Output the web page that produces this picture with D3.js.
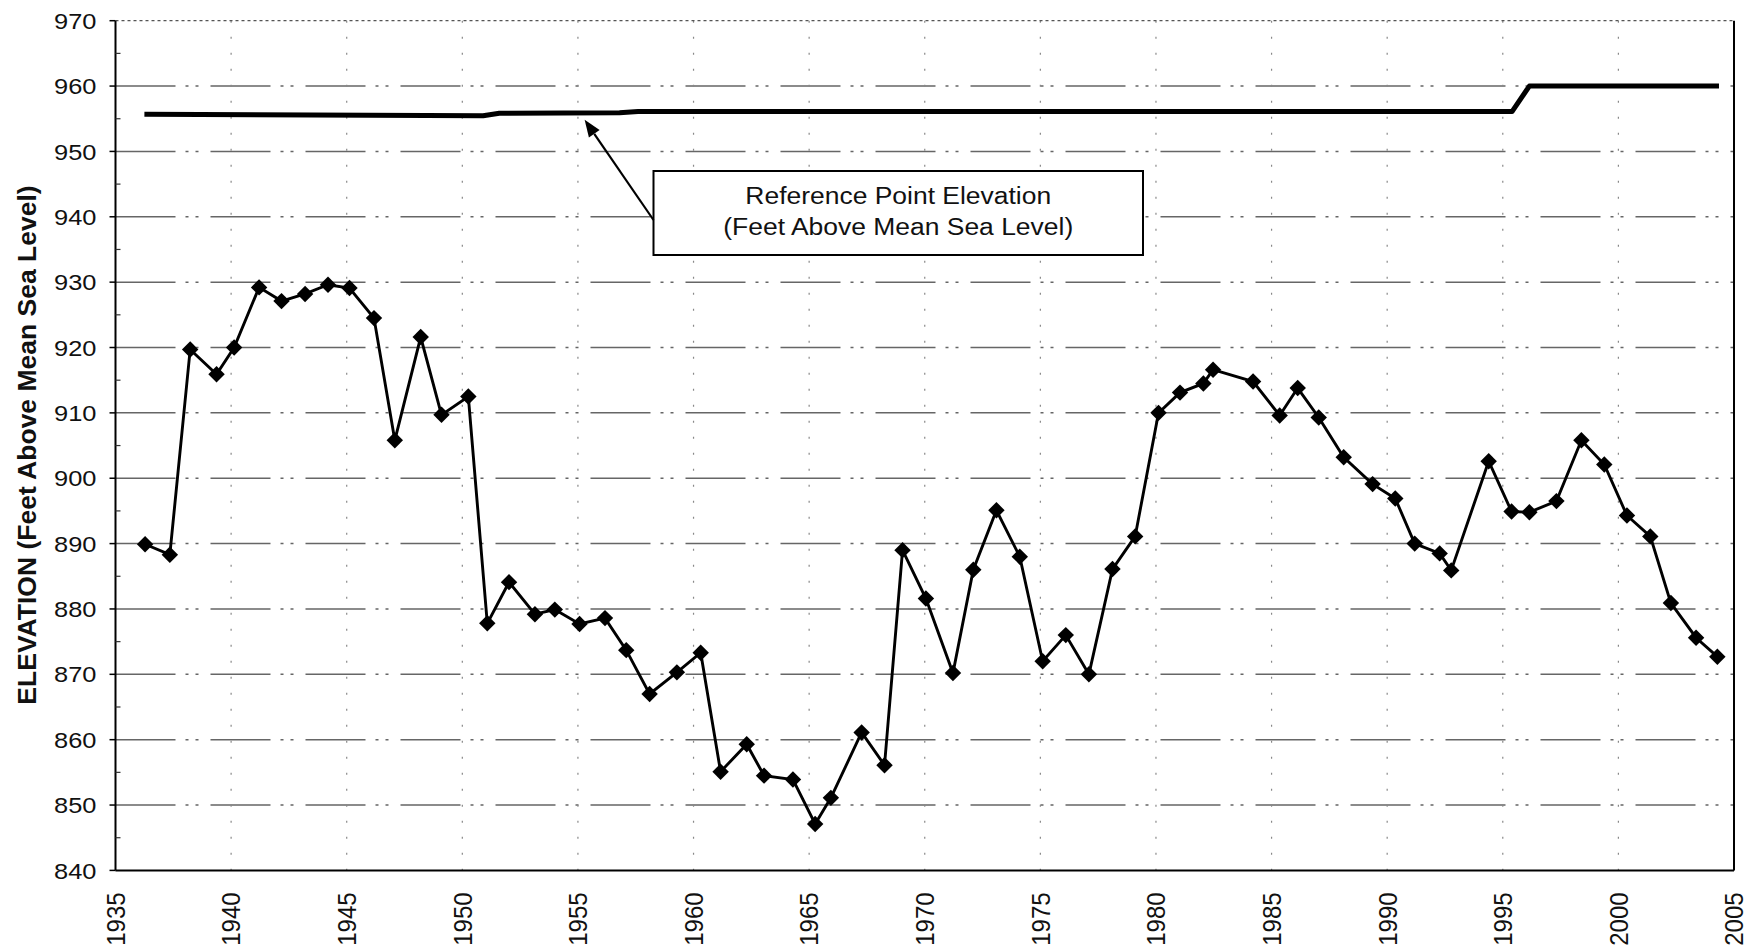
<!DOCTYPE html>
<html>
<head>
<meta charset="utf-8">
<script src="https://cdn.jsdelivr.net/npm/d3@7"></script>
<style>
  html, body { margin: 0; padding: 0; background: #fff; }
  svg { display: block; font-family: "Liberation Sans", Arial, sans-serif; }
</style>
</head>
<body>
<svg id="chart" width="1756" height="951"></svg>
<script>
// ---- data ----
const years = [
  1936.28, 1937.35, 1938.23, 1939.37, 1940.13, 1941.21, 1942.18, 1943.20, 1944.19, 1945.12,
  1946.18, 1947.08, 1948.20, 1949.10, 1950.26, 1951.08, 1952.02, 1953.14, 1954.00, 1955.07,
  1956.17, 1957.09, 1958.10, 1959.28, 1960.31, 1961.17, 1962.30, 1963.05, 1964.30, 1965.26,
  1965.94, 1967.27, 1968.26, 1969.04, 1970.05, 1971.22, 1972.10, 1973.10, 1974.11, 1975.10,
  1976.10, 1977.10, 1978.12, 1979.10, 1980.11, 1981.04, 1982.05, 1982.47, 1984.20, 1985.35,
  1986.13, 1987.04, 1988.12, 1989.37, 1990.35, 1991.19, 1992.27, 1992.77, 1994.39, 1995.38,
  1996.15, 1997.32, 1998.40, 1999.39, 2000.37, 2001.38, 2002.27, 2003.36, 2004.28
];
const elevation = [
  889.9, 888.3, 919.7, 915.9, 920.0, 929.2, 927.1, 928.2, 929.6, 929.1,
  924.5, 905.8, 921.6, 909.7, 912.5, 877.8, 884.1, 879.2, 879.9, 877.7,
  878.6, 873.7, 867.0, 870.3, 873.3, 855.1, 859.3, 854.5, 853.9, 847.1,
  851.1, 861.1, 856.1, 889.0, 881.6, 870.2, 886.0, 895.1, 888.0, 872.0,
  876.0, 870.0, 886.1, 891.1, 910.0, 913.1, 914.5, 916.6, 914.8, 909.6,
  913.8, 909.3, 903.2, 899.1, 896.9, 890.0, 888.5, 885.9, 902.6, 894.9,
  894.8, 896.5, 905.8, 902.1, 894.3, 891.1, 880.9, 875.6, 872.7
];
const refYears = [1936.25, 1950.9, 1951.6, 1956.8, 1957.6, 1995.4, 1996.15, 2004.35];
const refElev   = [955.7, 955.45, 955.85, 955.9, 956.1, 956.1, 960.0, 960.0];
const yTicks = [840, 850, 860, 870, 880, 890, 900, 910, 920, 930, 940, 950, 960, 970];
const xTicks = [1935, 1940, 1945, 1950, 1955, 1960, 1965, 1970, 1975, 1980, 1985, 1990, 1995, 2000, 2005];
const yTitle = "ELEVATION (Feet Above Mean Sea Level)";
const noteLines = ["Reference Point Elevation", "(Feet Above Mean Sea Level)"];
const arrowTarget = [1955.29, 955.3];

// ---- layout ----
const L = 115.5, R = 1734, T = 20.7, B = 870.4;
const svg = d3.select("#chart");
const x = d3.scaleLinear().domain([1935, 2005]).range([L, R]);
const y = d3.scaleLinear().domain([840, 970]).range([B, T]);

// gridlines
const grid = svg.append("g");
grid.selectAll("line.h").data(yTicks.filter(v => v > 840 && v < 970)).join("line")
  .attr("x1", L).attr("x2", R).attr("y1", d => y(d)).attr("y2", d => y(d))
  .attr("stroke", "#666").attr("stroke-width", 1.5)
  .attr("stroke-dasharray", "60,10,3,7,3,12");
grid.selectAll("line.v").data(xTicks.filter(v => v > 1935 && v < 2005)).join("line")
  .attr("x1", d => x(d)).attr("x2", d => x(d)).attr("y1", T).attr("y2", B)
  .attr("stroke", "#888").attr("stroke-width", 1.2)
  .attr("stroke-dasharray", "2,14");

// frame
svg.append("line").attr("x1", L).attr("x2", R).attr("y1", T).attr("y2", T)
  .attr("stroke", "#555").attr("stroke-width", 1.3).attr("stroke-dasharray", "3,3");
svg.append("line").attr("x1", L).attr("x2", L).attr("y1", T).attr("y2", B)
  .attr("stroke", "#000").attr("stroke-width", 2);
svg.append("line").attr("x1", R).attr("x2", R).attr("y1", T).attr("y2", B)
  .attr("stroke", "#000").attr("stroke-width", 2);
svg.append("line").attr("x1", L).attr("x2", R).attr("y1", B).attr("y2", B)
  .attr("stroke", "#000").attr("stroke-width", 2);

// y axis ticks (major outside, minor inside)
svg.append("g").selectAll("line").data(yTicks).join("line")
  .attr("x1", L - 6).attr("x2", L).attr("y1", d => y(d)).attr("y2", d => y(d))
  .attr("stroke", "#000").attr("stroke-width", 1.5);
svg.append("g").selectAll("line").data(yTicks.slice(0, -1).map(v => v + 5)).join("line")
  .attr("x1", L).attr("x2", L + 5).attr("y1", d => y(d)).attr("y2", d => y(d))
  .attr("stroke", "#333").attr("stroke-width", 1.2);

// y tick labels
svg.append("g").selectAll("text").data(yTicks).join("text")
  .attr("transform", d => `translate(${L - 19},${y(d)}) scale(1.13,1)`)
  .attr("text-anchor", "end").attr("dy", "0.36em")
  .attr("font-size", 22.5).attr("fill", "#111")
  .text(d => d);

// x tick labels (rotated)
svg.append("g").selectAll("text").data(xTicks).join("text")
  .attr("transform", d => `translate(${x(d)},${B + 22}) scale(1.08,1) rotate(-90)`)
  .attr("text-anchor", "end").attr("dy", "0.36em")
  .attr("font-size", 24).attr("fill", "#111")
  .text(d => d);

// y title
svg.append("text")
  .attr("transform", `translate(26.8,445) rotate(-90)`)
  .attr("text-anchor", "middle").attr("dy", "0.36em")
  .attr("font-size", 26.5).attr("font-weight", "bold").attr("fill", "#111")
  .text(yTitle);

// reference point elevation line
const refLine = d3.line().x((d, i) => x(refYears[i])).y((d, i) => y(refElev[i]));
svg.append("path").attr("d", refLine(refYears))
  .attr("fill", "none").attr("stroke", "#000").attr("stroke-width", 5)
  .attr("stroke-linejoin", "round");

// elevation series
const line = d3.line().x((d, i) => x(years[i])).y((d, i) => y(elevation[i]));
svg.append("path").attr("d", line(years))
  .attr("fill", "none").attr("stroke", "#000").attr("stroke-width", 2.9)
  .attr("stroke-linejoin", "miter");
const diamond = d3.symbol().type(d3.symbolSquare).size(135);
svg.append("g").selectAll("path").data(years).join("path")
  .attr("d", diamond())
  .attr("transform", (d, i) => `translate(${x(d)},${y(elevation[i])}) rotate(45)`)
  .attr("fill", "#000");

// annotation box
const bx0 = 653.5, bx1 = 1143, by0 = 171, by1 = 255;
svg.append("rect").attr("x", bx0).attr("y", by0).attr("width", bx1 - bx0).attr("height", by1 - by0)
  .attr("fill", "#fff").attr("stroke", "#000").attr("stroke-width", 2);
noteLines.forEach((t, i) => {
  svg.append("text")
    .attr("transform", `translate(${(bx0 + bx1) / 2},${204 + i * 30.5}) scale(1.08,1)`)
    .attr("text-anchor", "middle").attr("font-size", 24.5).attr("fill", "#111")
    .text(t);
});

// arrow
const tip = [x(arrowTarget[0]), y(arrowTarget[1]) + 3];
const tail = [bx0, 220];
const ang = Math.atan2(tip[1] - tail[1], tip[0] - tail[0]);
const hl = 17, hw = 6.5;
const base = [tip[0] - hl * Math.cos(ang), tip[1] - hl * Math.sin(ang)];
svg.append("line").attr("x1", tail[0]).attr("y1", tail[1]).attr("x2", base[0]).attr("y2", base[1])
  .attr("stroke", "#000").attr("stroke-width", 2.2);
svg.append("path")
  .attr("d", `M${tip[0]},${tip[1]}L${base[0] + hw * Math.sin(ang)},${base[1] - hw * Math.cos(ang)}L${base[0] - hw * Math.sin(ang)},${base[1] + hw * Math.cos(ang)}Z`)
  .attr("fill", "#000");
</script>
</body>
</html>
